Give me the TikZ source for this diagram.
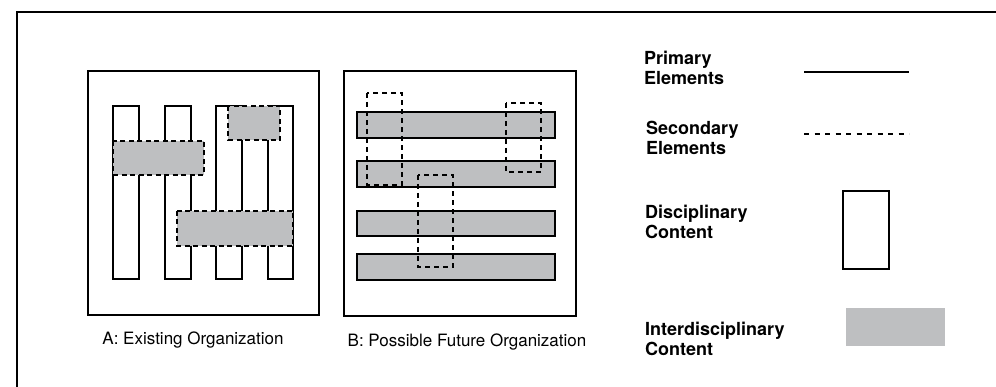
\documentclass[tikz,border=0pt]{standalone}
\usepackage{fontspec}
\setmainfont{TeX Gyre Heros}
\definecolor{panelgray}{RGB}{190,191,193}
\begin{document}
\begin{tikzpicture}[x=1pt,y=-1pt,
  frame/.style={draw=black,line width=1.5pt},
  primbar/.style={draw=black,line width=2.4pt,fill=white},
  interbox/.style={fill=panelgray,draw=black,line width=1.8pt,dash pattern=on 5pt off 3.5pt},
  hbar/.style={fill=panelgray,draw=black,line width=2.4pt},
  secbox/.style={draw=black,line width=1.8pt,dash pattern=on 5pt off 4pt},
  caption/.style={font=\fontsize{17}{20}\selectfont,inner sep=0pt},
  legtext/.style={font=\fontsize{18}{20.5}\selectfont\bfseries,align=left,anchor=west,inner sep=0pt}]
\useasboundingbox (0,0) rectangle (996,387);
% outer frame (top and left)
\draw[line width=1.8pt] (17,387) -- (17,12) -- (996,12);
% Panel A
\draw[frame] (88,71) rectangle (319,315);
\draw[primbar] (113,106) rectangle (139,279);
\draw[primbar] (165,106) rectangle (191,279);
\draw[primbar] (216,106) rectangle (242,279);
\draw[primbar] (268,106) rectangle (293,279);
\draw[interbox] (113,141) rectangle (204,175);
\draw[interbox] (177,211) rectangle (293,246);
\draw[interbox] (228,106) rectangle (280,140);
\node[caption] (capA) at (193,340) {A: Existing Organization};
% Panel B
\draw[frame] (344,71) rectangle (576,316);
\draw[hbar] (357,112) rectangle (555,138);
\draw[hbar] (357,161) rectangle (555,187);
\draw[hbar] (357,211) rectangle (555,236);
\draw[hbar] (357,254) rectangle (555,280);
\draw[secbox] (367,93) rectangle (402,185);
\draw[secbox] (506,103) rectangle (541,172);
\draw[secbox] (418,175) rectangle (453,267);
\node[caption] (capB) at (467,342) {B: Possible Future Organization};
% Legend
\node[legtext] (lp) at (644,68) {Primary\\Elements};
\draw[line width=1.7pt] (804,72) -- (909,72);
\node[legtext] (ls) at (646,138) {Secondary\\Elements};
\draw[line width=1.7pt,dash pattern=on 5pt off 5.5pt] (804,134) -- (909,134);
\node[legtext] (ld) at (645,222) {Disciplinary\\Content};
\draw[line width=2.8pt] (843,191) rectangle (889,269);
\node[legtext] (li) at (645,339) {Interdisciplinary\\Content};
\fill[panelgray] (846,308) rectangle (945,346);
\end{tikzpicture}
\end{document}
